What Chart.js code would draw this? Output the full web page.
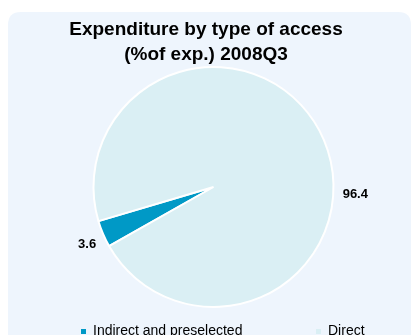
<!DOCTYPE html>
<html>
<head>
<meta charset="utf-8">
<script src="https://cdn.jsdelivr.net/npm/chart.js@4.4.1/dist/chart.umd.min.js"></script>
<style>
  html, body { margin: 0; padding: 0; background: #ffffff; }
  #wrap { width: 415px; height: 335px; position: relative; }
</style>
</head>
<body>
<div id="wrap"><canvas id="c" width="415" height="335"></canvas></div>
<script>
// Expenditure split by type of access, % of expenditure, 2008Q3
const categories = ['Indirect and preselected', 'Direct'];
const shares = [3.6, 96.4];
const titleLines = ['Expenditure by type of access', '(%of exp.) 2008Q3'];

const sliceColors = ['#0099C6', '#DAEFF4'];
const FONT = '"Liberation Sans", Arial, sans-serif';

// Rounded light panel behind the whole chart
const panelPlugin = {
  id: 'panel',
  beforeDraw(chart) {
    const ctx = chart.ctx;
    const x = 8, y = 12, w = 403, h = 340, r = 13;
    ctx.save();
    ctx.fillStyle = '#EEF5FD';
    ctx.beginPath();
    ctx.moveTo(x + r, y);
    ctx.lineTo(x + w - r, y);
    ctx.quadraticCurveTo(x + w, y, x + w, y + r);
    ctx.lineTo(x + w, y + h);
    ctx.lineTo(x, y + h);
    ctx.lineTo(x, y + r);
    ctx.quadraticCurveTo(x, y, x + r, y);
    ctx.closePath();
    ctx.fill();
    ctx.restore();
  }
};

// Two-line bold heading
const headingPlugin = {
  id: 'heading',
  afterDraw(chart) {
    const ctx = chart.ctx;
    ctx.save();
    ctx.fillStyle = '#000000';
    ctx.font = 'bold 19px ' + FONT;
    ctx.textAlign = 'center';
    ctx.textBaseline = 'alphabetic';
    ctx.fillText(titleLines[0], 206, 35);
    ctx.fillText(titleLines[1], 206, 60);
    ctx.restore();
  }
};

// Value labels placed just outside each slice
const valueLabelPlugin = {
  id: 'valueLabels',
  afterDatasetsDraw(chart, args, opts) {
    const ctx = chart.ctx;
    const meta = chart.getDatasetMeta(0);
    const values = chart.data.datasets[0].data;
    ctx.save();
    ctx.fillStyle = '#000000';
    ctx.font = 'bold 13px ' + FONT;
    ctx.textAlign = 'center';
    ctx.textBaseline = 'middle';
    meta.data.forEach((arc, i) => {
      const p = arc.getProps(['x', 'y', 'startAngle', 'endAngle', 'outerRadius'], true);
      const place = opts.placement[i];
      const ang = place.angle != null ? place.angle * Math.PI / 180 : (p.startAngle + p.endAngle) / 2;
      const d = p.outerRadius + place.gap;
      ctx.fillText(values[i].toFixed(1), p.x + Math.cos(ang) * d, p.y + Math.sin(ang) * d);
    });
    ctx.restore();
  }
};

// Legend row at the bottom with small square markers
const legendRowPlugin = {
  id: 'legendRow',
  afterDraw(chart, args, opts) {
    const ctx = chart.ctx;
    const ds = chart.data.datasets[0];
    ctx.save();
    ctx.font = '14px ' + FONT;
    ctx.textBaseline = 'alphabetic';
    ctx.textAlign = 'left';
    chart.data.labels.forEach((label, i) => {
      const x = opts.itemX[i];
      ctx.fillStyle = ds.backgroundColor[i];
      ctx.fillRect(x, opts.y - 6, 5, 5);
      ctx.fillStyle = '#000000';
      ctx.fillText(label, x + 12, opts.y);
    });
    ctx.restore();
  }
};

new Chart(document.getElementById('c'), {
  type: 'pie',
  data: {
    labels: categories,
    datasets: [{
      data: shares,
      backgroundColor: sliceColors,
      borderColor: '#FFFFFF',
      borderWidth: 2
    }]
  },
  options: {
    responsive: false,
    animation: false,
    rotation: 240.5,
    radius: 120,
    layout: { padding: { left: 94, right: 82, top: 67, bottom: 28 } },
    plugins: {
      legend: { display: false },
      title: { display: false },
      tooltip: { enabled: false },
      valueLabels: { placement: [{ angle: 155.4, gap: 19 }, { angle: 3, gap: 22 }] },
      legendRow: { itemX: [81, 316], y: 335 }
    }
  },
  plugins: [panelPlugin, headingPlugin, valueLabelPlugin, legendRowPlugin]
});
</script>
</body>
</html>
